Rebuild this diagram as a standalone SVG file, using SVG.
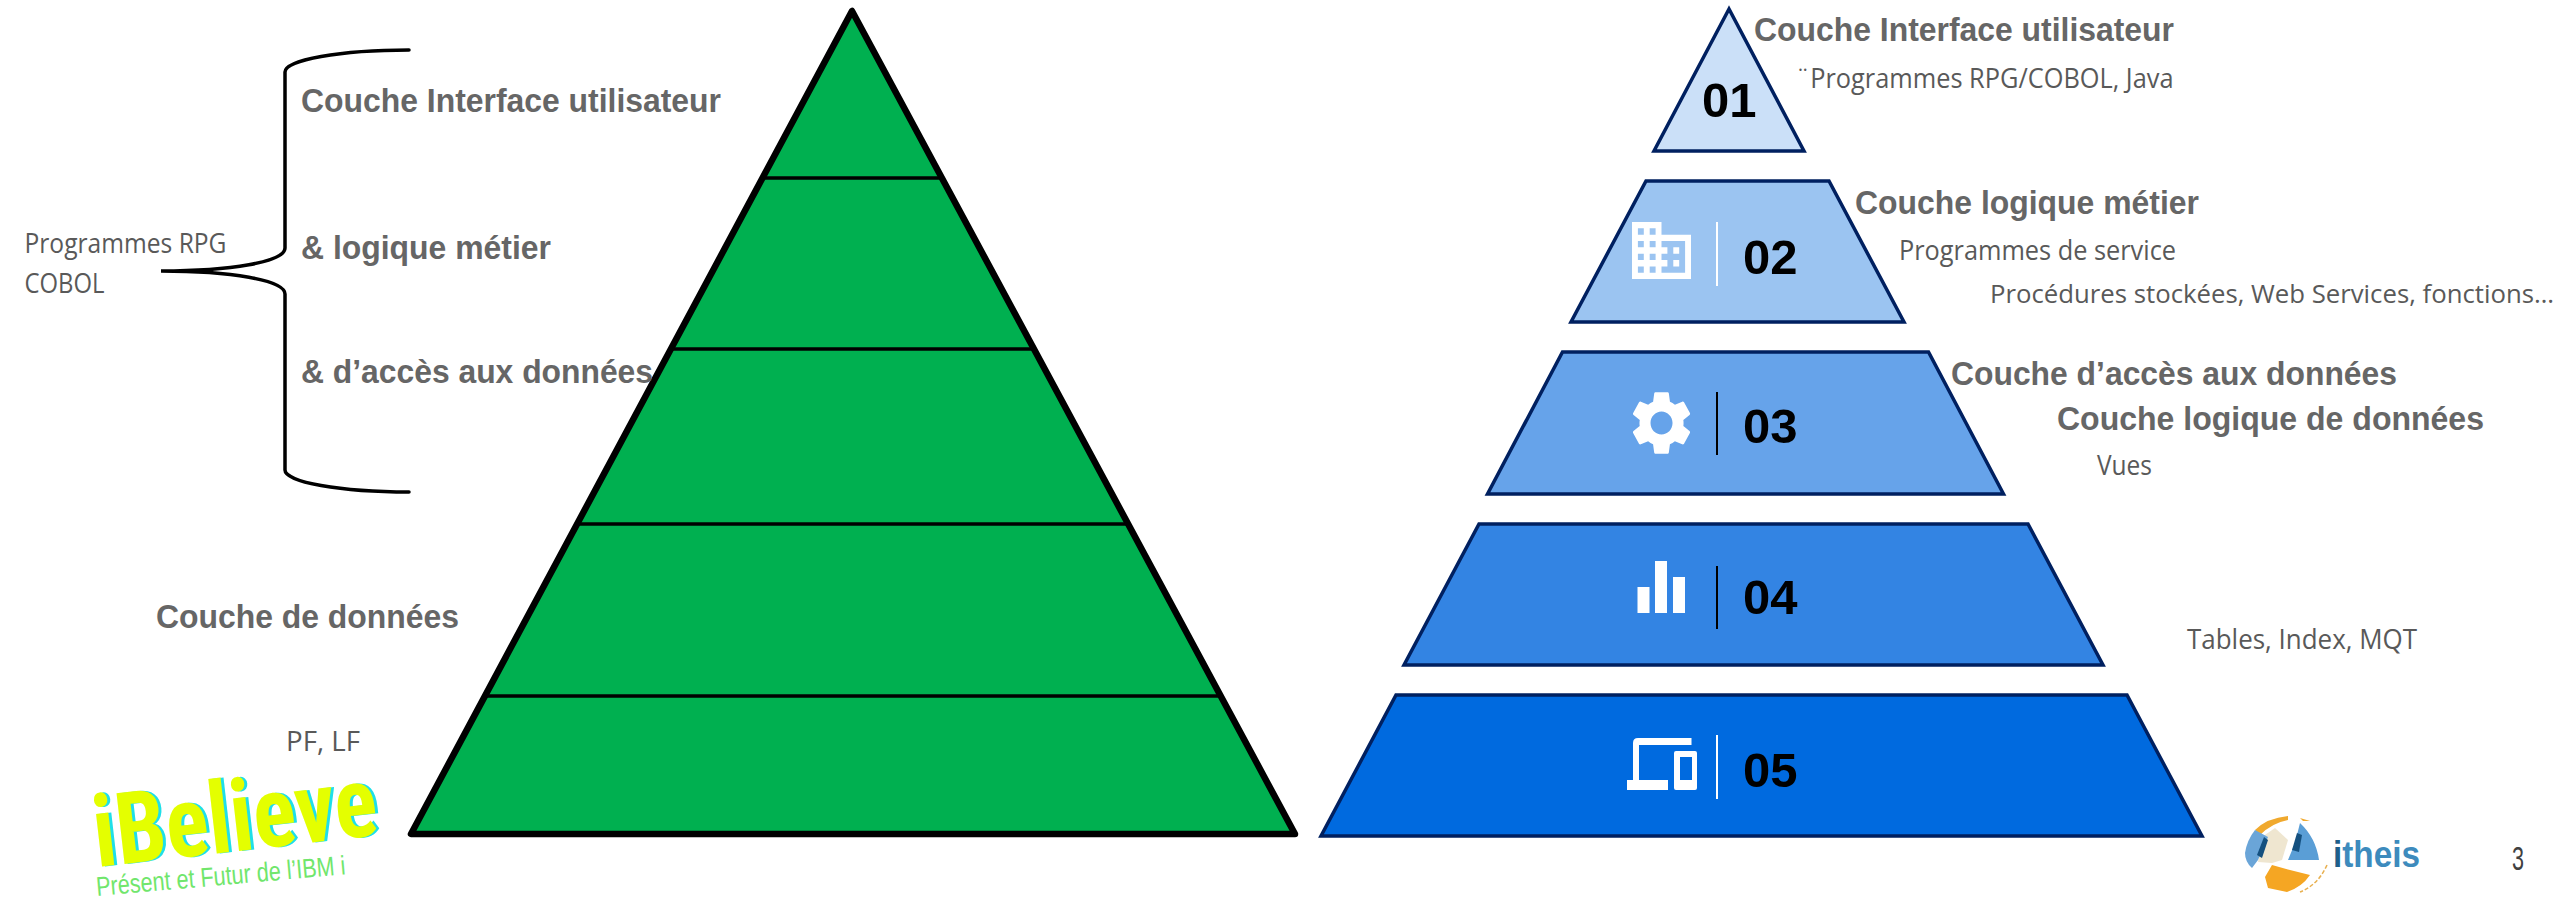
<svg xmlns="http://www.w3.org/2000/svg" width="2560" height="899" viewBox="0 0 2560 899">
<style>
text{font-family:"Liberation Sans",Arial,sans-serif}
.h{font-size:33px;font-weight:700;fill:#666}
.r{font-family:"Open Sans","Noto Sans",sans-serif;font-size:28px;fill:#595959}
.n{font-size:49px;font-weight:700;fill:#000}
.t{stroke:#002060;stroke-width:3.5;stroke-linejoin:miter}
.sep{stroke:#000;stroke-width:3.5}
.ic{fill:#fff}
.logo{font-family:Roboto,"Liberation Sans",sans-serif;font-size:100px;font-weight:700;font-stretch:75%}
</style>
<rect width="2560" height="899" fill="#fff"/>
<g id="left-pyramid">
<polygon points="852,11 411,834 1295,834" fill="#00b050"/>
<path class="sep" d="M762 178H942M671 349H1033M577 524H1127M485 696H1219"/>
<polygon points="852,11 411,834 1295,834" fill="none" stroke="#000" stroke-width="6.5" stroke-linejoin="round"/>
</g>
<g id="brace"><path d="M409 50C340 50 285 60 285 72V248C285 262 230 271 161 271C230 271 285 280 285 294V470C285 482 340 492 409 492" fill="none" stroke="#000" stroke-width="3.5" stroke-linecap="round"/></g>
<g id="left-labels">
<text class="h" x="301" y="112" textLength="420" lengthAdjust="spacingAndGlyphs">Couche Interface utilisateur</text>
<text class="h" x="301" y="259" textLength="250" lengthAdjust="spacingAndGlyphs">&amp; logique métier</text>
<text class="h" x="301" y="383" textLength="352" lengthAdjust="spacingAndGlyphs">&amp; d’accès aux données</text>
<text class="h" x="156" y="628" textLength="303" lengthAdjust="spacingAndGlyphs">Couche de données</text>
<text class="r" x="24.5" y="253" textLength="202" lengthAdjust="spacingAndGlyphs">Programmes RPG</text>
<text class="r" x="24.5" y="293" textLength="80" lengthAdjust="spacingAndGlyphs">COBOL</text>
<text class="r" x="286" y="751" textLength="74" lengthAdjust="spacingAndGlyphs">PF, LF</text>
</g>
<g id="layer-01">
<polygon class="t" points="1729,9 1654,151 1804,151" fill="#cbe0f8"/>
<text class="n" x="1702" y="117">01</text>
</g>
<g id="layer-02">
<polygon class="t" points="1646,181 1829,181 1904,322 1571,322" fill="#9bc4f1"/>
<path class="ic" transform="translate(1626.1,212.5) scale(2.95,3.17)" d="M12 7V3H2v18h20V7H12zM6 19H4v-2h2v2zm0-4H4v-2h2v2zm0-4H4V9h2v2zm0-4H4V5h2v2zm4 12H8v-2h2v2zm0-4H8v-2h2v2zm0-4H8V9h2v2zm0-4H8V5h2v2zm10 12h-8v-2h2v-2h-2v-2h2v-2h-2V9h8v10zm-2-8h-2v2h2v-2zm0 4h-2v2h2v-2z"/>
<rect x="1716" y="222" width="2" height="64" fill="#fff"/>
<text class="n" x="1743" y="274">02</text>
</g>
<g id="layer-03">
<polygon class="t" points="1562.5,352 1928.5,352 2003.5,494 1487.5,494" fill="#66a3ea"/>
<path class="ic" fill-rule="evenodd" transform="translate(1624.8,384.6) scale(3.06,3.2)" d="M19.14 12.94c.04-.3.06-.61.06-.94 0-.32-.02-.64-.07-.94l2.03-1.58c.18-.14.23-.41.12-.61l-1.92-3.32c-.12-.22-.37-.29-.59-.22l-2.39.96c-.5-.38-1.03-.7-1.62-.94l-.36-2.54c-.04-.24-.24-.41-.48-.41h-3.84c-.24 0-.43.17-.47.41l-.36 2.54c-.59.24-1.13.57-1.62.94l-2.39-.96c-.22-.08-.47 0-.59.22L2.74 8.87c-.12.21-.08.47.12.61l2.03 1.58c-.05.3-.09.63-.09.94s.02.64.07.94l-2.03 1.58c-.18.14-.23.41-.12.61l1.92 3.32c.12.22.37.29.59.22l2.39-.96c.5.38 1.03.7 1.62.94l.36 2.54c.05.24.24.41.48.41h3.84c.24 0 .44-.17.47-.41l.36-2.54c.59-.24 1.13-.56 1.62-.94l2.39.96c.22.08.47 0 .59-.22l1.92-3.32c.12-.22.07-.47-.12-.61l-2.01-1.58zM12 15.6c-1.98 0-3.6-1.62-3.6-3.6s1.62-3.6 3.6-3.6 3.6 1.62 3.6 3.6-1.62 3.6-3.6 3.6z"/>
<rect x="1716" y="392" width="2" height="63" fill="#000"/>
<text class="n" x="1743" y="443">03</text>
</g>
<g id="layer-04">
<polygon class="t" points="1479,524 2028,524 2103,665 1404,665" fill="#3384e3"/>
<rect class="ic" x="1637.5" y="587" width="12" height="26"/>
<rect class="ic" x="1655" y="561" width="12" height="52"/>
<rect class="ic" x="1673" y="577" width="12" height="36"/>
<rect x="1716" y="566" width="2" height="63" fill="#000"/>
<text class="n" x="1743" y="614">04</text>
</g>
<g id="layer-05">
<polygon class="t" points="1396,695 2127,695 2202,836 1321,836" fill="#006adf"/>
<path class="ic" d="M1633 780V743Q1633 738 1638 738H1691.5V745H1639V780ZM1627 780H1668V790H1627Z"/>
<path class="ic" fill-rule="evenodd" d="M1676 751H1695Q1697 751 1697 753V788Q1697 790 1695 790H1676Q1674 790 1674 788V753Q1674 751 1676 751ZM1680 757V780H1692V757Z"/>
<rect x="1716" y="735" width="2" height="64" fill="#fff"/>
<text class="n" x="1743" y="787">05</text>
</g>
<g id="right-labels">
<text class="h" x="1754" y="41" textLength="420" lengthAdjust="spacingAndGlyphs">Couche Interface utilisateur</text>
<text class="r" x="1795.5" y="88" textLength="378" lengthAdjust="spacingAndGlyphs">¨Programmes RPG/COBOL, Java</text>
<text class="h" x="1855" y="214" textLength="344" lengthAdjust="spacingAndGlyphs">Couche logique métier</text>
<text class="r" x="1899" y="260" textLength="277" lengthAdjust="spacingAndGlyphs">Programmes de service</text>
<text class="r" x="1990" y="303" style="font-size:26px" textLength="564" lengthAdjust="spacingAndGlyphs">Procédures stockées, Web Services, fonctions…</text>
<text class="h" x="1951" y="385" textLength="446" lengthAdjust="spacingAndGlyphs">Couche d’accès aux données</text>
<text class="h" x="2057" y="430" textLength="427" lengthAdjust="spacingAndGlyphs">Couche logique de données</text>
<text class="r" x="2097" y="475" textLength="55" lengthAdjust="spacingAndGlyphs">Vues</text>
<text class="r" x="2187" y="649" textLength="230" lengthAdjust="spacingAndGlyphs">Tables, Index, MQT</text>
</g>
<g id="ibelieve-logo">
<text class="logo" transform="translate(100,867) rotate(-6.5)" fill="#1fdfe8" textLength="285" lengthAdjust="spacingAndGlyphs">iBelieve</text>
<text class="logo" transform="translate(97,867) rotate(-6.5)" fill="#e4ff00" textLength="285" lengthAdjust="spacingAndGlyphs">iBelieve</text>
<text transform="translate(97,896) rotate(-5)" font-family="'Open Sans',sans-serif" font-size="27" fill="#70e66c" textLength="250" lengthAdjust="spacingAndGlyphs">Présent et Futur de l’IBM i</text>
</g>
<g id="itheis-logo">
<path d="M2255 830Q2267 818 2288 816V820Q2272 823 2260 835Z" fill="#f0a92e"/>
<path d="M2300 818L2310 821L2303 821Z" fill="#f0a92e"/>
<path d="M2262 837L2275 828L2288 840L2282 860L2272 863L2258 862Z" fill="#efe6d0"/>
<path d="M2245 853Q2247 840 2255 830L2268 837L2258 860L2252 868Q2245 862 2245 853Z" fill="#6aa5d8"/>
<path d="M2257 855L2264 837L2268 840L2262 858Z" fill="#14507f"/>
<path d="M2300 823Q2316 838 2319 860L2288 860L2295 843Z" fill="#5a9ed6"/>
<path d="M2297 833L2302 835L2299 852L2292 850Z" fill="#14507f"/>
<path d="M2272 865L2290 870L2310 875Q2302 887 2287 892L2268 888L2265 877Z" fill="#f5a623"/>
<path d="M2327 865Q2318 885 2300 892" fill="none" stroke="#e8b050" stroke-width="1.5" stroke-dasharray="4 2"/>
<text x="2333" y="867" font-size="36" font-weight="700" fill="#3d8bbd" textLength="87" lengthAdjust="spacingAndGlyphs"><tspan fill="#1f5f8b">i</tspan>theis</text>
</g>
<g id="page-number"><text x="2512" y="870" font-family="Lato,'Open Sans',sans-serif" font-weight="300" font-size="34" fill="#404040" textLength="12" lengthAdjust="spacingAndGlyphs">3</text></g>
</svg>
